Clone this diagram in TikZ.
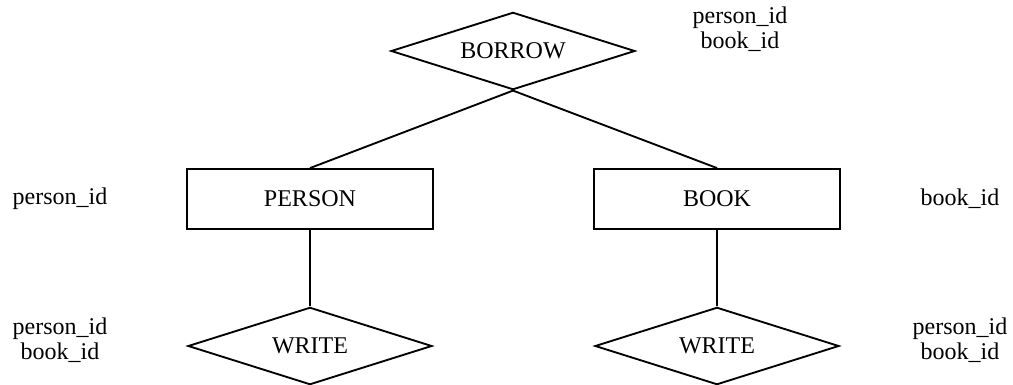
\documentclass[tikz,border=0pt]{standalone}
\usepackage{fontspec}
\setmainfont{Liberation Serif}
\usetikzlibrary{shapes.geometric}
\begin{document}
\begin{tikzpicture}[x=0.75pt,y=-0.75pt,
  line width=1.4pt,
  every node/.style={font=\fontsize{18}{19}\selectfont},
  entity/.style={draw, rectangle, inner sep=0pt, minimum width=184pt, minimum height=45pt},
  relation/.style={draw, diamond, inner sep=0pt, aspect=3.1, minimum width=183pt, minimum height=58pt},
  attr/.style={align=center, inner sep=0pt}]
\useasboundingbox (0,0) rectangle (1013,385);

% relationships and entities
\node[relation] (borrow) at (513,51) {BORROW};
\node[entity] (person) at (310,199) {PERSON};
\node[entity] (book) at (717,199) {BOOK};
\node[relation] (writeL) at (310,346) {WRITE};
\node[relation] (writeR) at (717,346) {WRITE};

% attribute lists
\node[attr] (borrowkeys) at (740,29) {person\_id\\book\_id};
\node[attr] (personkey) at (60,199) {person\_id};
\node[attr] (bookkey) at (960,199) {book\_id};
\node[attr] (writeLkeys) at (60,340) {person\_id\\book\_id};
\node[attr] (writeRkeys) at (960,340) {person\_id\\book\_id};

% connectors
\draw (borrow.south) -- (person.north);
\draw (borrow.south) -- (book.north);
\draw (person.south) -- (writeL.north);
\draw (book.south) -- (writeR.north);
\end{tikzpicture}
\end{document}
